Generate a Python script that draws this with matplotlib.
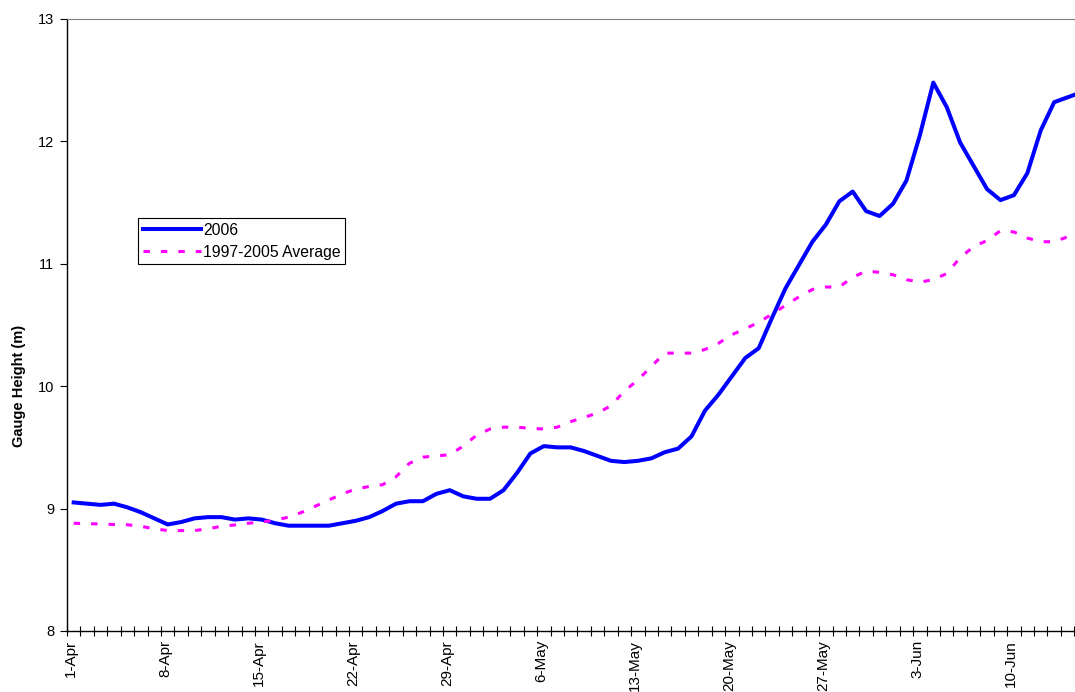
import pandas as pd
import numpy as np
import matplotlib.pyplot as plt
import matplotlib.transforms as mtransforms
from matplotlib.ticker import MultipleLocator, FixedLocator

plt.rcParams['font.family'] = ['Liberation Sans', 'DejaVu Sans']

# daily gauge height (m), 1-Apr .. 15-Jun
dates = pd.date_range('2006-04-01', periods=76, freq='D')
h2006 = [9.05, 9.04, 9.03, 9.04, 9.01, 8.97, 8.92, 8.87, 8.89, 8.92,
         8.93, 8.93, 8.91, 8.92, 8.91, 8.88, 8.86, 8.86, 8.86, 8.86,
         8.88, 8.90, 8.93, 8.98, 9.04, 9.06, 9.06, 9.12, 9.15, 9.10,
         9.08, 9.08, 9.15, 9.29, 9.45, 9.51, 9.50, 9.50, 9.47, 9.43,
         9.39, 9.38, 9.39, 9.41, 9.46, 9.49, 9.59, 9.80, 9.93, 10.08,
         10.23, 10.31, 10.56, 10.80, 10.99, 11.18, 11.32, 11.51, 11.59, 11.43,
         11.39, 11.49, 11.68, 12.05, 12.48, 12.28, 11.99, 11.80, 11.61, 11.52,
         11.56, 11.74, 12.09, 12.32, 12.36, 12.40]
avg = [8.88, 8.877, 8.874, 8.87, 8.868, 8.855, 8.835, 8.82, 8.82, 8.82,
       8.835, 8.855, 8.866, 8.88, 8.89, 8.905, 8.93, 8.97, 9.02, 9.07,
       9.12, 9.16, 9.18, 9.195, 9.26, 9.37, 9.42, 9.43, 9.44, 9.51,
       9.60, 9.65, 9.665, 9.665, 9.655, 9.65, 9.665, 9.71, 9.745, 9.78,
       9.84, 9.96, 10.05, 10.16, 10.27, 10.27, 10.27, 10.30, 10.35, 10.42,
       10.47, 10.52, 10.59, 10.66, 10.73, 10.79, 10.81, 10.81, 10.89, 10.94,
       10.93, 10.91, 10.87, 10.85, 10.87, 10.92, 11.05, 11.14, 11.19, 11.27,
       11.26, 11.21, 11.18, 11.18, 11.22, 11.27]

day = np.arange(len(dates))
x = day + 0.5  # points sit between the day ticks

fig = plt.figure(figsize=(10.75, 6.92), dpi=100)
ax = fig.add_axes([0.0623, 0.0882, 0.9377, 0.8844])

ax.plot(x, h2006, color='#0000ff', lw=2.9, label='2006')
ax.plot(x, avg, color='#ff00ff', lw=2.2, dashes=(2.1, 3.6), label='1997-2005 Average')

ax.set_xlim(0, 75.05)
ax.set_ylim(8, 13)
ax.yaxis.set_major_locator(MultipleLocator(1))
ax.tick_params(axis='y', direction='out', length=5, width=0.8, labelsize=10.5, pad=4)

major = day[::7]
ax.xaxis.set_major_locator(FixedLocator(major))
ax.xaxis.set_minor_locator(MultipleLocator(1))
ax.set_xticklabels([d.strftime('%-d-%b') for d in dates[::7]], rotation=90,
                   fontsize=11, va='top', ha='center')
ax.tick_params(axis='x', which='both', direction='inout', length=7, width=0.8, pad=3)
# labels sit a little right of their tick, like the original
shift = mtransforms.ScaledTranslation(4 / 100, 0, fig.dpi_scale_trans)
for lab in ax.get_xticklabels():
    lab.set_transform(lab.get_transform() + shift)

ax.set_ylabel('Gauge Height (m)', fontsize=10.5, fontweight='bold')
ax.yaxis.set_label_coords(-0.041, 0.40)

for s in ['left', 'bottom']:
    ax.spines[s].set_color('black')
    ax.spines[s].set_linewidth(1.0)
ax.spines['top'].set_color('#808080')
ax.spines['top'].set_linewidth(0.8)
ax.spines['right'].set_visible(False)

leg = ax.legend(loc='upper left', bbox_to_anchor=(0.0704, 0.675), borderaxespad=0,
                fancybox=False, edgecolor='black', framealpha=1, fontsize=11.3,
                handlelength=3.7, handletextpad=0.15, borderpad=0.3, labelspacing=0.45)
leg.get_frame().set_linewidth(0.8)

plt.savefig('out.png', dpi=100)
